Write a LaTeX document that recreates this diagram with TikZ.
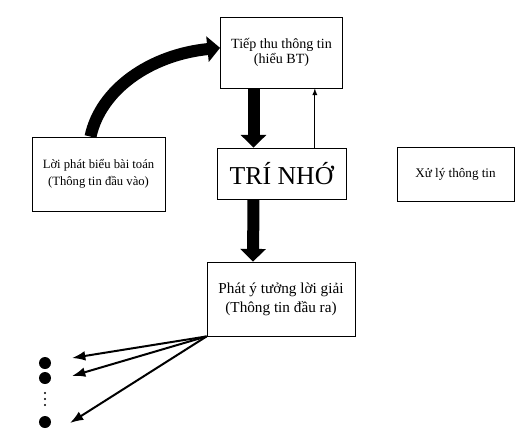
\documentclass[tikz,border=0pt]{standalone}
\usepackage{fontspec}
\setmainfont{Liberation Serif}
\usepackage{tikz}
\usetikzlibrary{
  arrows.meta,
  positioning,
  calc
}
\tikzset{>=latex}
\tikzset{
  box/.style={draw, line width=0.7pt, inner sep=0pt, align=center},
  bigarrow/.style={line width=0.36cm, -{Triangle[width=0.75cm,length=0.38cm]}},
  idea/.style={line width=1.7pt, -{Latex[length=4mm,width=2.9mm]}},
  bullet/.style={circle, fill=black, inner sep=0pt, minimum size=0.36cm}
}

\begin{document}
\begin{tikzpicture}[x=0.03cm, y=-0.03cm]
  \useasboundingbox (0,0) rectangle (524,435);
  % boxes
  \node[box, minimum width=3.66cm, minimum height=2.13cm,
    font=\fontsize{12}{12.8}\selectfont] (tiepthu) at (281.5,52.5)
    {Tiếp thu thông tin\\(hiểu BT)};
  \node[box, minimum width=3.99cm, minimum height=2.22cm,
    font=\fontsize{10.8}{14.5}\selectfont] (loiphat) at (98.5,174)
    {Lời phát biểu bài toán\\(Thông tin đầu vào)};
  \node[box, minimum width=3.87cm, minimum height=1.53cm,
    font=\fontsize{22}{24}\selectfont] (trinho) at (281.5,173.5) {TRÍ NHỚ};
  \node[box, minimum width=3.51cm, minimum height=1.62cm,
    font=\fontsize{11.2}{13}\selectfont] (xuly) at (455.5,174) {Xử lý thông tin};
  \node[box, minimum width=4.44cm, minimum height=2.22cm,
    font=\fontsize{13}{16}\selectfont] (phaty) at (281,299)
    {Phát ý tưởng lời giải\\(Thông tin đầu ra)};
  % arrows between boxes
  \draw[bigarrow] ([xshift=-0.24cm]loiphat.north)
    .. controls +(10,-47) and +(-70,7) .. ([yshift=0.14cm]tiepthu.west);
  \draw[bigarrow] ([xshift=-0.84cm]tiepthu.south) -- ([xshift=-0.84cm]trinho.north);
  \draw[->, line width=1pt] ([xshift=1.0cm]trinho.north) -- ([xshift=1.0cm]tiepthu.south);
  \draw[bigarrow] ([xshift=-0.84cm]trinho.south) -- ([xshift=-0.84cm]phaty.north);
  % the ideas
  \node[bullet] (d1) at (45,363) {};
  \node[bullet] (d2) at (45,378) {};
  \node[bullet] (d3) at (45,422) {};
  \foreach \y in {393,399,405}
    \fill (45,\y) circle (0.9pt);
  \coordinate (e1) at (72,358);
  \coordinate (e2) at (72,376);
  \coordinate (e3) at (70,423);
  \foreach \e in {e1,e2,e3}
    \draw[idea] (phaty.south west) -- (\e);
\end{tikzpicture}
\end{document}
